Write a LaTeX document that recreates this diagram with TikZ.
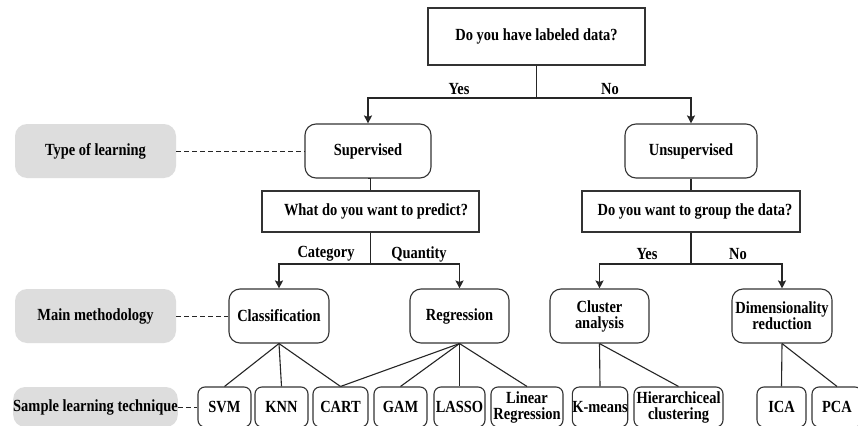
\documentclass[tikz,border=0pt]{standalone}
\usepackage{fontspec}
\setmainfont{Liberation Serif}[FakeStretch=0.85]
\usetikzlibrary{arrows.meta}
\definecolor{boxline}{HTML}{333333}
\definecolor{graybox}{HTML}{DDDDDD}
\begin{document}
\begin{tikzpicture}[x=1pt,y=-1pt,
  every node/.style={font=\fontsize{17}{16}\selectfont\bfseries, inner sep=0pt, align=center},
  sq/.style={draw=boxline, line width=1.1pt, minimum height=#1},
  rbox/.style={draw=boxline, line width=1.1pt, rounded corners=11pt, minimum height=54pt},
  sbox/.style={draw=boxline, line width=1.1pt, rounded corners=7pt, minimum height=40pt},
  gbox/.style={fill=graybox, rounded corners=12pt, minimum width=161pt},
  conn/.style={draw=black!85, line width=1.1pt},
  arr/.style={conn, -{Stealth[length=8pt,width=8pt,inset=1.5pt]}},
  dsh/.style={draw=black!85, line width=0.9pt, dash pattern=on 5pt off 3pt},
  lbl/.style={fill=none}
]
\path[fill=white, use as bounding box] (0,0) rectangle (858,425);

% top question
\node[sq=57pt, minimum width=217pt] (q1) at (536.5,36.5) {Do you have labeled data?};

% type of learning
\node[rbox, minimum width=126pt] (sup) at (368,151) {Supervised};
\node[rbox, minimum width=132pt] (uns) at (691,151) {Unsupervised};
\node[gbox, minimum height=54pt] (tl) at (95.5,151) {Type of learning};

% second questions
\node[sq=41pt, minimum width=217pt] (q2) at (370.5,211.5) {\hspace*{11pt}What do you want to predict?};
\node[sq=41pt, minimum width=218pt] (q3) at (691,211.5) {\hspace*{8pt}Do you want to group the data?};

% main methodology
\node[rbox, minimum width=100pt] (cls) at (279,316) {Classification};
\node[rbox, minimum width=99pt] (reg) at (459.5,316) {Regression};
\node[rbox, minimum width=99pt] (clu) at (599.5,316) {Cluster\\analysis};
\node[rbox, minimum width=100pt] (dim) at (782,316) {Dimensionality\\reduction};
\node[gbox, minimum height=54pt] (mm) at (95.5,316) {Main methodology};

% sample techniques
\node[sbox, minimum width=53pt] (svm) at (224.5,407) {SVM};
\node[sbox, minimum width=53pt] (knn) at (281.5,407) {KNN};
\node[sbox, minimum width=55pt] (cart) at (340.5,407) {CART};
\node[sbox, minimum width=53pt] (gam) at (400.5,407) {GAM};
\node[sbox, minimum width=51pt] (lasso) at (459.5,407) {LASSO};
\node[sbox, minimum width=72pt] (lin) at (527,407) {Linear\\Regression};
\node[sbox, minimum width=54pt] (km) at (600,407) {K-means};
\node[sbox, minimum width=89pt] (hc) at (678.5,407) {Hierarchiceal\\clustering};
\node[sbox, minimum width=49pt] (ica) at (781.5,407) {ICA};
\node[sbox, minimum width=50pt] (pca) at (837,407) {PCA};
\node[gbox, minimum height=40pt] (slt) at (95.5,407) {Sample learning technique};

% first split
\coordinate (j1) at (536.5,98);
\draw[conn] (q1.south) -- (j1);
\draw[arr] (j1) -| (sup.north);
\draw[arr] (j1) -| (uns.north);
\node[lbl] (yes1) at (459,89) {Yes};
\node[lbl] (no1) at (610,89) {No};

% to second questions
\draw[conn] (sup.south) -- (sup.south -| q2.north) -- (q2.north);
\draw[conn] (uns.south) -- (q3.north);

% second splits
\coordinate (j2) at (370.5,264);
\draw[conn] (q2.south) -- (j2);
\draw[arr] (j2) -| (cls.north);
\draw[arr] (j2) -| (reg.north);
\node[lbl] (cat) at (326,254) {Category};
\node[lbl] (qty) at (419,254) {Quantity};

\coordinate (j3) at (691,264);
\draw[conn] (q3.south) -- (j3);
\draw[arr] (j3) -| (clu.north);
\draw[arr] (j3) -| (dim.north);
\node[lbl] (yes2) at (647,254) {Yes};
\node[lbl] (no2) at (738,254) {No};

% methodology to techniques
\draw[conn] (cls.south) -- (svm.north);
\draw[conn] (cls.south) -- (knn.north);
\draw[conn] (cls.south) -- (cart.north);
\draw[conn] (reg.south) -- (cart.north);
\draw[conn] (reg.south) -- (gam.north);
\draw[conn] (reg.south) -- (lasso.north);
\draw[conn] (reg.south) -- (lin.north);
\draw[conn] (clu.south) -- (km.north);
\draw[conn] (clu.south) -- (hc.north);
\draw[conn] (dim.south) -- (ica.north);
\draw[conn] (dim.south) -- (pca.north);

% dashed guides
\draw[dsh] (tl.east) -- (sup.west);
\draw[dsh] (mm.east) -- (cls.west);
\draw[dsh] (slt.east) -- (svm.west);
\end{tikzpicture}
\end{document}
